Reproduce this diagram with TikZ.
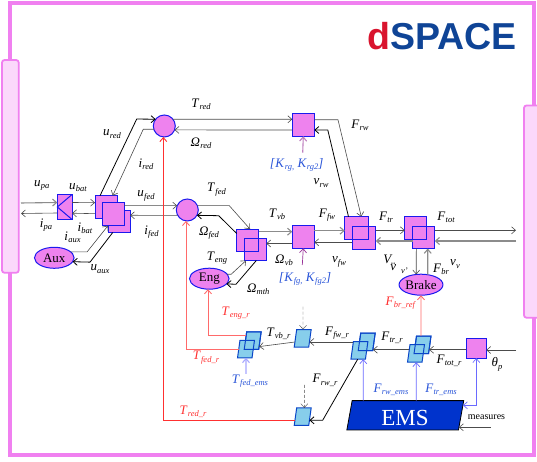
\documentclass[tikz,border=0pt]{standalone}
\usepackage{fontspec}
\setmainfont{Liberation Serif}
\newfontfamily\logofont{Liberation Sans}
\usepackage{xcolor}
\usetikzlibrary{arrows.meta,positioning,shapes.geometric}

\definecolor{framepink}{HTML}{F080F0}
\definecolor{tabpink}{HTML}{FBD8FB}
\definecolor{blockfill}{HTML}{EE82EE}
\definecolor{blockline}{HTML}{1A1AEE}
\definecolor{refsky}{HTML}{87CEEB}
\definecolor{refline}{HTML}{0A46C8}
\definecolor{refred}{HTML}{FF3030}
\definecolor{refsalmon}{HTML}{FF6A6A}
\definecolor{emsblue}{HTML}{0033CC}
\definecolor{emsarrow}{HTML}{6A6AFF}
\definecolor{labblue}{HTML}{2A55D8}
\definecolor{logored}{HTML}{D9142E}
\definecolor{logoblue}{HTML}{0F4496}

\newcommand{\lab}[2]{\textit{#1}\kern.2pt\raisebox{-.4ex}{\fontsize{8.5}{9}\selectfont\itshape #2}}

\begin{document}
\begin{tikzpicture}[
	x=1pt, y=1pt,
	>={Straight Barb[length=4pt,width=7pt]},
	on grid,
	frame/.style={draw=framepink, line width=4pt, inner sep=0pt, outer sep=0pt, minimum width=524.3pt, minimum height=452pt},
	tabbox/.style={draw=framepink, fill=tabpink, line width=1.8pt, rounded corners=2.5pt, inner sep=0pt, outer sep=0pt},
	block/.style={draw=blockline, fill=blockfill, line width=1pt, inner sep=0pt, outer sep=0pt, minimum width=22pt, minimum height=22.5pt},
	wheel/.style={circle, draw=blockline, fill=blockfill, line width=1pt, inner sep=0pt, outer sep=0pt, minimum size=22pt},
	unit/.style={ellipse, draw=blockline, fill=blockfill, line width=1pt, inner sep=0pt, outer sep=0pt, minimum width=39.6pt, minimum height=21pt, font=\fontsize{13}{14}\selectfont},
	refbox/.style={xslant=0.14, draw=refline, fill=refsky, line width=1pt, inner sep=0pt, outer sep=0pt, minimum width=14.5pt, minimum height=17.5pt},
	emsbox/.style={xslant=0.18, draw=black, fill=emsblue, line width=.8pt, inner sep=0pt, outer sep=0pt, minimum width=111.6pt, minimum height=29.3pt},
	lbl/.style={inner sep=0pt, font=\fontsize{13}{14}\selectfont},
	lblred/.style={lbl, text=refred},
	lblblue/.style={lbl, text=labblue},
	wire/.style={draw=black!70, line width=.6pt},
	heavy/.style={draw=black, line width=.8pt},
	pale/.style={draw=black!45, line width=1.1pt},
	refwire/.style={draw=refsalmon, line width=.9pt},
	emswire/.style={draw=emsarrow, line width=.7pt}
]
\useasboundingbox (0,0) rectangle (537,462);

\node[frame] (frame) at (272.15,233) {};
\node[tabbox, minimum width=16.7pt, minimum height=212.7pt] (tabl) at (10.35,295.6) {};
\node[tabbox, minimum width=21pt, minimum height=212.2pt] (tabr) at (534.5,250.4) {};

\node[wheel] (red) at (164.3,336) {};
\node[wheel, below right=84pt and 23pt of red] (fed) {};
\node[block, above right=1pt and 139pt of red] (rwb) {};

\node[block, above left=3pt and 81.3pt of fed] (bata) {};
\node[block, below right=14.3pt and 13pt of bata] (batc) {};
\node[block, below right=6.8pt and 7pt of bata] (batb) {};
\node[block, left=41.3pt of bata, minimum width=14.7pt, minimum height=25pt] (conv) {};
\node[unit, below left=50.8pt and 10.4pt of conv] (aux) {Aux};

\node[block, below right=30.3pt and 60.4pt of fed] (vba) {};
\node[block, below right=9pt and 7.6pt of vba] (vbb) {};
\node[block, fill=none] (vbaline) at (vba) {};
\node[unit, below left=38.4pt and 38.4pt of vba] (eng) {Eng};
\node[block, above right=3.3pt and 55.6pt of vba] (vbm) {};

\node[block, above right=9pt and 53.2pt of vbm, minimum width=23.4pt] (tra) {};
\node[block, below right=9.8pt and 7.5pt of tra, minimum width=23.4pt] (trb) {};
\node[block, fill=none, minimum width=23.4pt] (traline) at (tra) {};
\node[block, right=59.3pt of tra] (tota) {};
\node[block, below right=9.3pt and 7.9pt of tota] (totb) {};
\node[block, fill=none] (totaline) at (tota) {};
\node[unit, below left=47.4pt and 2.7pt of totb] (brake) {Brake};

\node[refbox, below right=60.3pt and 1.5pt of brake] (totrb) {};
\node[refbox, below left=8.5pt and 6.5pt of totrb] (totrf) {};
\node[refbox, fill=none] (totrbline) at (totrb) {};
\node[refbox, above left=3pt and 55.8pt of totrb] (trrb) {};
\node[refbox, below left=8.5pt and 7.3pt of trrb] (trrf) {};
\node[refbox, fill=none] (trrbline) at (trrb) {};
\node[refbox, above left=3.7pt and 64pt of trrb] (vbr) {};
\node[refbox, below left=2.3pt and 50pt of vbr] (fedrb) {};
\node[refbox, below left=8.5pt and 6.7pt of fedrb] (fedrf) {};
\node[refbox, fill=none] (fedrbline) at (fedrb) {};
\node[refbox, below=78.4pt of vbr] (rwr) {};
\node[block, below right=3.3pt and 53.8pt of totrb, minimum width=20pt, minimum height=19.5pt] (theta) {};
\node[emsbox, below left=61.8pt and 10.7pt of totrf] (ems) {};
\node[inner sep=0pt, text=white, font=\fontsize{23}{24}\selectfont] (emstext) at (405,44) {EMS};

\node[inner sep=0pt, font=\logofont\bfseries\fontsize{37.5}{40}\selectfont] (logo) at (442.2,426) {\textcolor{logored}{d}\textcolor{logoblue}{SPACE}};

\coordinate (upastart) at (21,259);
\coordinate (ipaend) at (21,248.5);
\coordinate (ftotend) at (516,231.7);
\coordinate (vvstart) at (516,221);
\coordinate (thetastart) at (516,112);
\coordinate (measstart) at (490.7,34.7);
\coordinate (rgstart) at (302.7,309.3);
\coordinate (fgstart) at (302.3,197);
\coordinate (emsstart) at (246,88);
\coordinate (vbrstart) at (303,155.3);
\coordinate (rwrstart) at (304.3,77);

\draw[blockline, line width=1pt] (conv.north east) -- (conv.west) -- (conv.south east);

\draw[->, pale] (upastart) -- ([yshift=4.5pt]conv.west);
\draw[->, wire] ([yshift=-6pt]conv.west) -- (ipaend);
\draw[->, wire] ([yshift=4.5pt]conv.east) -- ([yshift=4.3pt]bata.west);
\draw[->, wire] ([yshift=-6.7pt]bata.west) -- ([yshift=-6.2pt]conv.east);

\draw[->, heavy] ([xshift=5pt]bata.north west) -- ++(36.7,76.7) -- (red.142);
\draw[->, wire] (red.197) -- ++(-10.5,0) -- ([xshift=17.7pt]bata.north west);
\draw[->, wire] ([yshift=8.1pt]batb.east) -- (fed.157);
\draw[->, wire] (fed.209) -- ([yshift=6pt]batc.east);
\draw[->, wire] (aux.20) -- ++(16.5,0) -- ([yshift=-4.4pt]batc.west);
\draw[->, heavy] ([xshift=4.7pt]batc.south west) -- ++(-22.7,-29.6) -- (aux.-12);

\draw[->, wire] (red.38) -- ([yshift=5.7pt]rwb.west);
\draw[->, wire] ([yshift=-5pt]rwb.west) -- (red.-21);
\draw[->, wire] ([yshift=5.2pt]rwb.east) -- ++(23.7,0) -- ([xshift=16.5pt]tra.north west);
\draw[->, heavy] ([xshift=3.7pt]tra.north west) -- ++(-20.7,86.7) -- ([yshift=-5pt]rwb.east);

\draw[->, wire] (fed.23) -- ++(31.9,0) -- ([xshift=13.3pt]vba.north west);
\draw[->, heavy] ([yshift=6.8pt]vba.west) -- ++(-18,17.8) -- (fed.-29);
\draw[->, wire] (eng.14) -- ++(4,0) -- ([xshift=1.7pt]vbb.south west);
\draw[->, heavy] ([xshift=12pt]vbb.south west) -- ++(-20.3,-23.7) -- (eng.-17);

\draw[->, pale] ([yshift=8.6pt]vba.east) -- ([yshift=5.3pt]vbm.west);
\draw[->, wire] ([yshift=-6.5pt]vbm.west) -- ([yshift=5.8pt]vbb.east);
\draw[->, pale] ([yshift=6.3pt]vbm.east) -- ([yshift=-2.7pt]tra.west);
\draw[->, wire] ([yshift=-4.5pt]trb.west) -- ([yshift=-5.3pt]vbm.east);
\draw[->, wire] ([yshift=7.5pt]trb.east) -- ([yshift=-2.3pt]tota.west);
\draw[->, pale] ([yshift=-3.7pt]totb.west) -- ([yshift=-3.2pt]trb.east);
\draw[->, wire] ([yshift=7pt]totb.east) -- (ftotend);
\draw[->, pale] (vvstart) -- ([yshift=-3.7pt]totb.east);
\draw[->, wire] ([xshift=-7.4pt]totb.south) -- (brake.115);
\draw[->, pale] (brake.56) -- ([xshift=4pt]totb.south);

\draw[->, refwire] ([xshift=-2.7pt]totrb.north) -- (brake.south);
\draw[->, refwire] ([xshift=.7pt,yshift=4.7pt]fedrb.west) -| (eng.263);
\draw[->, refwire] (fedrf.west) -| (fed.263);
\draw[->, refwire, draw=refred] ([xshift=-.5pt,yshift=-3.6pt]rwr.west) -| (red.265);

\draw[->, draw=emsarrow!60, line width=1.1pt] (emsstart) -- ([xshift=1.2pt]fedrf.south);
\draw[->, wire] ([xshift=-.5pt,yshift=-3.7pt]vbr.west) -- ([xshift=-.8pt,yshift=-6pt]fedrb.east);
\draw[->, wire, densely dashed, line width=.4pt] (vbrstart) -- ([xshift=-.9pt]vbr.north);
\draw[->, wire] ([xshift=1.2pt,yshift=8.5pt]trrf.west) -- ([xshift=-.5pt,yshift=-3.7pt]vbr.east);
\draw[->, heavy] ([xshift=-.5pt]trrf.south) -- ++(-35,-61) -- ([xshift=-.5pt,yshift=-3.6pt]rwr.east);
\draw[->, wire, densely dashed, line width=.4pt] (rwrstart) -- ([xshift=.4pt]rwr.north);
\draw[->, wire] ([xshift=.5pt,yshift=3.8pt]totrf.west) -- ([xshift=-1pt,yshift=-7.7pt]trrb.east);
\draw[->, wire] ([yshift=-1.4pt]theta.west) -- ([xshift=-.6pt,yshift=-4.7pt]totrb.east);
\draw[->, wire] (thetastart) -- ([yshift=-1.7pt]theta.east);

\draw[->, emswire] ([xshift=-44.6pt]ems.north) -- ([xshift=5.1pt]trrf.south);
\draw[->, emswire] ([xshift=8.4pt]ems.north) -- ([xshift=1.5pt]totrf.south);
\draw[<->, emswire] ([xshift=1.8pt,yshift=10pt]ems.east) -| (theta.south);
\draw[->, wire] (measstart) -- ([xshift=-2.2pt,yshift=-12pt]ems.east);

\draw[->, draw=violet!50, line width=1.1pt] (rgstart) -- (rwb.south);
\draw[->, draw=violet!80, line width=.7pt] (fgstart) -- (vbm.south);

\node[lbl] (lupa) at (41.7,276.5) {\lab{u}{pa}};
\node[lbl] (lubat) at (78,274.5) {\lab{u}{bat}};
\node[lbl] (lipa) at (46,237) {\lab{i}{pa}};
\node[lbl] (libat) at (85,234) {\lab{i}{bat}};
\node[lbl] (liaux) at (72.5,225) {\lab{i}{aux}};
\node[lbl] (luaux) at (100,193) {\lab{u}{aux}};
\node[lbl] (lured) at (112,328) {\lab{u}{red}};
\node[lbl] (lired) at (146,298) {\lab{i}{red}};
\node[lbl] (lufed) at (146,266) {\lab{u}{fed}};
\node[lbl] (lifed) at (151.5,230) {\lab{i}{fed}};
\node[lbl] (ltred) at (201,357.5) {\lab{T}{red}};
\node[lbl] (lored) at (201,319) {\lab{Ω}{red}};
\node[lbl] (ltfed) at (216.5,272.5) {\lab{T}{fed}};
\node[lbl] (lofed) at (209,229) {\lab{Ω}{fed}};
\node[lbl] (lteng) at (217,204) {\lab{T}{eng}};
\node[lbl] (lomth) at (258.3,172.7) {\lab{Ω}{mth}};
\node[lbl] (ltvb) at (277,248) {\lab{T}{vb}};
\node[lbl] (lovb) at (284,202) {\lab{Ω}{vb}};
\node[lblblue] (lkrg) at (296.7,297) {\textit{[}\lab{K}{rg,} \lab{K}{rg2}\textit{]}};
\node[lblblue] (lkfg) at (305,183) {\textit{[}\lab{K}{fg,} \lab{K}{fg2}\textit{]}};
\node[lbl] (lvrw) at (321,279) {\lab{v}{rw}};
\node[lbl] (lfrw) at (360,337) {\lab{F}{rw}};
\node[lbl] (lffw) at (327,247) {\lab{F}{fw}};
\node[lbl] (lvfw) at (339,200) {\lab{v}{fw}};
\node[lbl] (lftr) at (386,245) {\lab{F}{tr}};
\node[lbl] (lftot) at (446,245) {\lab{F}{tot}};
\node[lbl] (lfbr) at (441,193) {\lab{F}{br}};
\node[lbl] (lvv) at (455,198) {\lab{v}{v}};
\node[lbl] (lvcap) at (388,203) {\textit{V}};
\node[lbl] (lvdot) at (399,194) {\lab{\"v}{v'}};
\node[lblred] (lfbrref) at (400.3,159) {\lab{F}{br\_ref}};
\node[lblred] (ltengr) at (235.7,149) {\lab{T}{eng\_r}};
\node[lblred] (ltfedr) at (206,104.5) {\lab{T}{fed\_r}};
\node[lblred] (ltredr) at (193,50.5) {\lab{T}{red\_r}};
\node[lblblue] (ltfedems) at (250,81) {\lab{T}{fed\_ems}};
\node[lbl] (ltvbr) at (278.5,128) {\lab{T}{vb\_r}};
\node[lbl] (lffwr) at (337,129) {\lab{F}{fw\_r}};
\node[lbl] (lfrwr) at (325,81.7) {\lab{F}{rw\_r}};
\node[lbl] (lftrr) at (392,124) {\lab{F}{tr\_r}};
\node[lbl] (lftotr) at (449,101) {\lab{F}{tot\_r}};
\node[lblblue] (lfrwems) at (391,72) {\lab{F}{rw\_ems}};
\node[lblblue] (lftrems) at (441,72) {\lab{F}{tr\_ems}};
\node[lbl] (ltheta) at (497,97.5) {\lab{θ}{p}};
\node[lbl, font=\fontsize{10}{11}\selectfont] (lmeas) at (486.5,44.7) {measures};

\end{tikzpicture}
\end{document}
